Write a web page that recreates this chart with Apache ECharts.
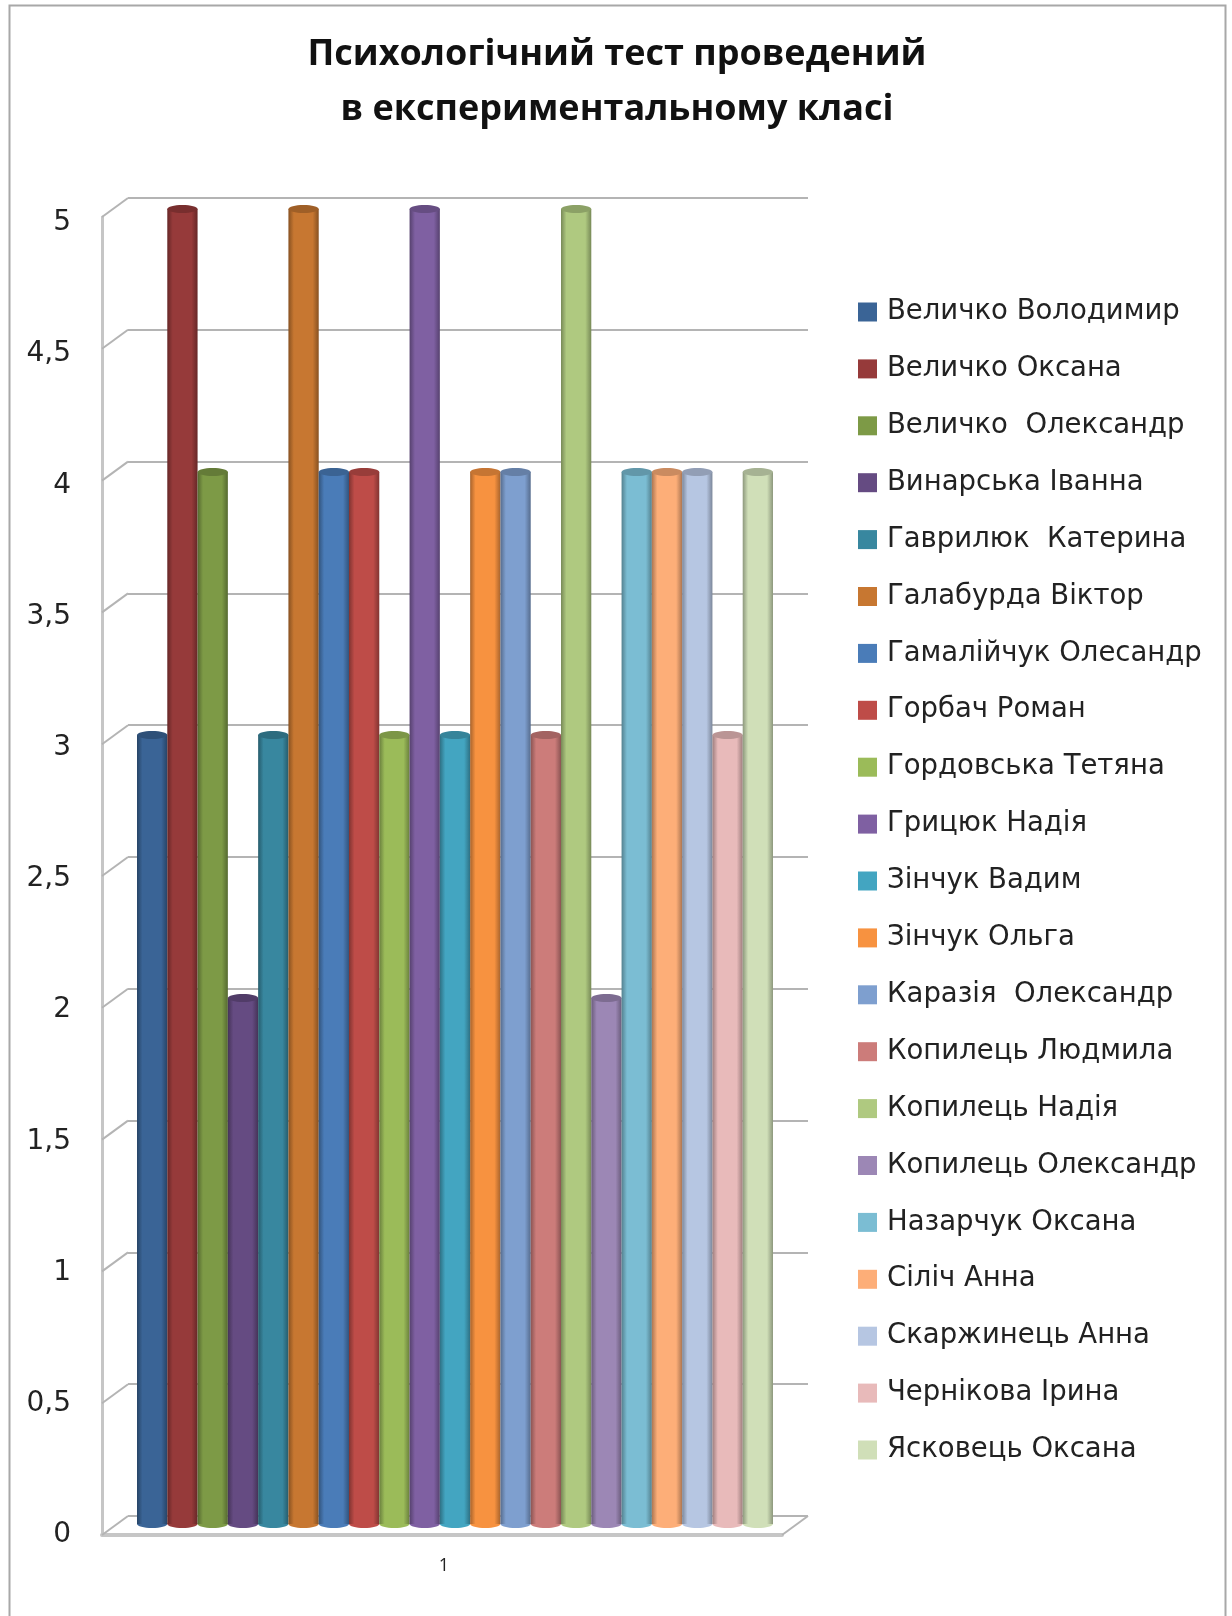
<!DOCTYPE html>
<html>
<head>
<meta charset="utf-8">
<style>html,body{margin:0;padding:0;background:#fff}#c{width:1232px;height:1616px}</style>
<script src="https://cdn.jsdelivr.net/npm/echarts@6/dist/echarts.min.js"></script>
</head>
<body>
<div id="c"></div>
<script>
const titleText = 'Психологічний тест проведений\nв експериментальному класі';
const categories = ['1'];
const names = ['Величко Володимир','Величко Оксана','Величко  Олександр','Винарська Іванна','Гаврилюк  Катерина','Галабурда Віктор','Гамалійчук Олесандр','Горбач Роман','Гордовська Тетяна','Грицюк Надія','Зінчук Вадим','Зінчук Ольга','Каразія  Олександр','Копилець Людмила','Копилець Надія','Копилець Олександр','Назарчук Оксана','Сіліч Анна','Скаржинець Анна','Чернікова Ірина','Ясковець Оксана'];
const values = [3,5,4,2,3,5,4,4,3,5,3,4,4,3,5,2,4,4,4,3,4];
const colors = ['#3A6496','#963A3A','#7D9A46','#654B82','#38879F','#C77731','#4A7CB8','#BE4C48','#9BBB59','#7F60A2','#43A5C1','#F79240','#7E9FCF','#CC7C7A','#AFC980','#9C87B5','#7BBDD3','#FDAE78','#B6C6E2','#E8BABA','#D0DFB8'];
const yTicks = [0,0.5,1,1.5,2,2.5,3,3.5,4,4.5,5];

const DEPTH_X = 26, DEPTH_Y = -19, GREY = '#b4b4b4', AXIS_GREY = '#c6c6c6';
const FRONT = 0, BACK = 1, BARS = 2, LABELS = 3;
const chart = echarts.init(document.getElementById('c'));

function darken(hex, k) {
  const n = parseInt(hex.slice(1), 16);
  return 'rgb(' + [n >> 16, (n >> 8) & 255, n & 255].map(v => Math.round(v * k)).join(',') + ')';
}

function renderBar(params, api) {
  const i = params.seriesIndex - 1;
  const band = api.size([1, 0])[0];
  const w = band / names.length;
  const left = api.coord([0, 0])[0] - band / 2 + i * w;
  const top = api.coord([0, api.value(1)])[1];
  const base = api.coord([0, 0])[1];
  const c = colors[i];
  const edge = darken(c, 0.68);
  const fill = new echarts.graphic.LinearGradient(0, 0, 1, 0, [
    {offset: 0, color: edge}, {offset: 0.18, color: c}, {offset: 0.8, color: c}, {offset: 1, color: edge}
  ]);
  return {type: 'group', children: [
    {type: 'ellipse', shape: {cx: left + w / 2, cy: base, rx: w / 2, ry: 4}, style: {fill: c}},
    {type: 'rect', shape: {x: left, y: top, width: w, height: base - top}, style: {fill}},
    {type: 'ellipse', shape: {cx: left + w / 2, cy: top, rx: w / 2, ry: 4}, style: {fill: darken(c, 0.8)}}
  ]};
}

function renderFrame(params, api) {
  const cs = params.coordSys;
  const tick = api.value(1);
  const y = api.coord([0, tick])[1];
  const lineStyle = {stroke: GREY, lineWidth: 2, fill: null};
  const children = [{type: 'line', shape: {x1: cs.x, y1: y, x2: cs.x + DEPTH_X, y2: y + DEPTH_Y}, style: lineStyle}];
  if (tick === 0) {
    children.push({type: 'line', shape: {x1: cs.x + cs.width, y1: y, x2: cs.x + cs.width + DEPTH_X, y2: y + DEPTH_Y}, style: lineStyle});
  }
  return {type: 'group', children};
}

const barSeries = names.map((name, i) => ({
  name, type: 'custom', xAxisIndex: BARS, yAxisIndex: BARS, z: 10 + i,
  itemStyle: {color: colors[i]}, encode: {x: 0, y: 1}, clip: false,
  renderItem: renderBar, data: [[0, values[i]]]
}));

chart.setOption({
  animation: false,
  backgroundColor: '#fff',
  title: {
    text: titleText, left: 612, top: 22, textAlign: 'center',
    textStyle: {fontFamily: 'Open Sans', fontWeight: 'bold', fontSize: 36, lineHeight: 55, color: '#111'}
  },
  graphic: [{type: 'rect', z: -1, silent: true, shape: {x: 9.5, y: 5.5, width: 1216, height: 1660},
    style: {fill: null, stroke: '#a8a8a8', lineWidth: 2}}],
  legend: {
    orient: 'vertical', left: 853, top: 293, itemWidth: 19, itemHeight: 19, itemGap: 28.9,
    icon: 'rect', data: names, selectedMode: false,
    textStyle: {fontFamily: 'DejaVu Sans', fontSize: 27.5, color: '#222', lineHeight: 19, padding: [0, 0, 0, 5]}
  },
  grid: [
    {left: 102, width: 680, top: 217, height: 1318},
    {left: 128, width: 680, top: 198, height: 1318},
    {left: 137, width: 636, top: 209, height: 1315},
    {left: 102, width: 680, top: 223, height: 1312}
  ],
  xAxis: [
    {gridIndex: FRONT, type: 'category', data: categories, axisTick: {show: false},
      axisLine: {lineStyle: {color: AXIS_GREY, width: 4}},
      axisLabel: {margin: 22, fontFamily: 'Open Sans', fontSize: 18, color: '#222', padding: [0, 0, 0, 4]}},
    {gridIndex: BACK, type: 'category', data: categories, show: false},
    {gridIndex: BARS, type: 'category', data: categories, show: false},
    {gridIndex: LABELS, type: 'category', data: categories, show: false}
  ],
  yAxis: [
    {gridIndex: FRONT, type: 'value', min: 0, max: 5, interval: 0.5,
      axisLine: {show: true, lineStyle: {color: AXIS_GREY, width: 3}}, axisTick: {show: false}, splitLine: {show: false},
      axisLabel: {show: false}},
    {gridIndex: BACK, type: 'value', min: 0, max: 5, interval: 0.5, axisLine: {show: false}, axisTick: {show: false},
      axisLabel: {show: false}, splitLine: {show: true, lineStyle: {color: GREY, width: 2}}},
    {gridIndex: BARS, type: 'value', min: 0, max: 5, interval: 0.5, show: false},
    {gridIndex: LABELS, type: 'value', min: 0, max: 5, interval: 0.5, axisLine: {show: false}, axisTick: {show: false}, splitLine: {show: false},
      axisLabel: {margin: 31, fontFamily: 'DejaVu Sans', fontSize: 28, color: '#222', formatter: v => String(v).replace('.', ',')}}
  ],
  series: [{
    name: 'frame', type: 'custom', xAxisIndex: FRONT, yAxisIndex: FRONT, z: 1, clip: false,
    encode: {x: 0, y: 1}, renderItem: renderFrame, data: yTicks.map(t => [0, t]), silent: true
  }].concat(barSeries)
});
</script>
</body>
</html>
